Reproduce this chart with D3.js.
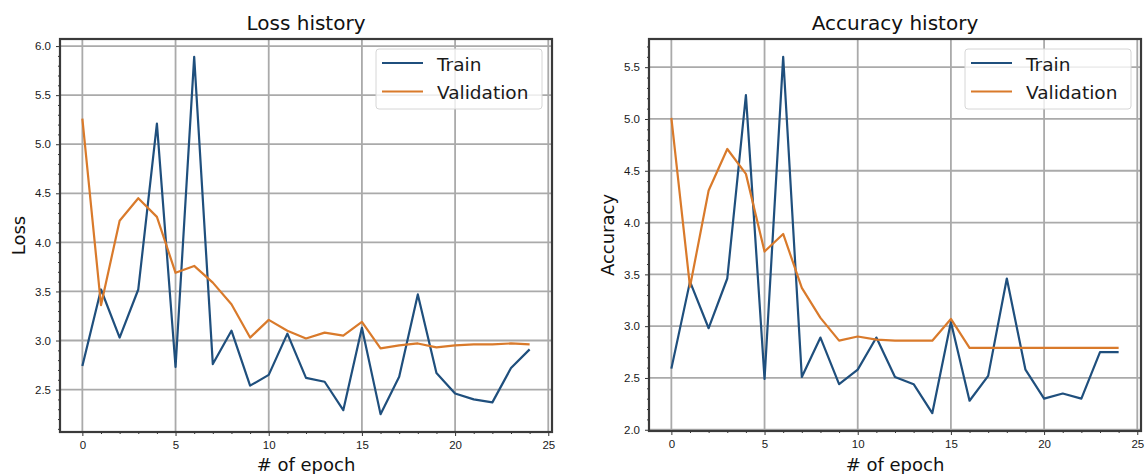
<!DOCTYPE html>
<html>
<head>
<meta charset="utf-8">
<script src="https://cdn.jsdelivr.net/npm/d3@7"></script>
<style>
  body { margin: 0; background: #fff; }
  svg { font-family: "DejaVu Sans", sans-serif; }
</style>
</head>
<body>
<div id="chart"></div>
<script>
// training history, one value per epoch
const epochs = d3.range(25);
const lossTrain = [2.74, 3.52, 3.03, 3.52, 5.21, 2.73, 5.89, 2.76, 3.10, 2.54, 2.65, 3.07, 2.62, 2.58, 2.29,
                   3.13, 2.25, 2.63, 3.47, 2.67, 2.46, 2.40, 2.37, 2.72, 2.91];
const lossVal   = [5.26, 3.36, 4.22, 4.45, 4.26, 3.69, 3.76, 3.59, 3.37, 3.03, 3.21, 3.10, 3.02, 3.08, 3.05,
                   3.19, 2.92, 2.95, 2.97, 2.93, 2.95, 2.96, 2.96, 2.97, 2.96];
const accTrain  = [2.59, 3.43, 2.98, 3.46, 5.23, 2.49, 5.60, 2.51, 2.89, 2.44, 2.58, 2.89, 2.51, 2.44, 2.16,
                   3.04, 2.28, 2.52, 3.46, 2.58, 2.30, 2.35, 2.30, 2.75, 2.75];
const accVal    = [5.01, 3.38, 4.31, 4.71, 4.47, 3.72, 3.89, 3.37, 3.08, 2.86, 2.90, 2.87, 2.86, 2.86, 2.86,
                   3.07, 2.79, 2.79, 2.79, 2.79, 2.79, 2.79, 2.79, 2.79, 2.79];
const seriesNames = ["Train", "Validation"];
const xTicks = [0, 5, 10, 15, 20, 25];
const lossTicks = [2.5, 3.0, 3.5, 4.0, 4.5, 5.0, 5.5, 6.0];
const accTicks = [2.0, 2.5, 3.0, 3.5, 4.0, 4.5, 5.0, 5.5];

const W = 1145, H = 474;
const colors = ["#1f4f7d", "#d97a2b"];

const svg = d3.select("#chart").append("svg")
    .attr("width", W).attr("height", H);

function drawPanel(cfg) {
    const {left, right, top, bottom, title, ylabel, train, val, yTicks} = cfg;
    const all = train.concat(val);
    const lo = d3.min(all), hi = d3.max(all), pad = (hi - lo) * 0.05;

    const x = d3.scaleLinear().domain([-1.2, 25.2]).range([left, right]);
    const y = d3.scaleLinear().domain([lo - pad, hi + pad]).range([bottom, top]);

    const g = svg.append("g");

    // grid
    g.append("g").selectAll("line").data(xTicks).join("line")
        .attr("x1", d => x(d)).attr("x2", d => x(d))
        .attr("y1", top).attr("y2", bottom)
        .attr("stroke", "#aaaaaa").attr("stroke-width", 1.8);
    g.append("g").selectAll("line").data(yTicks).join("line")
        .attr("x1", left).attr("x2", right)
        .attr("y1", d => y(d)).attr("y2", d => y(d))
        .attr("stroke", "#aaaaaa").attr("stroke-width", 1.8);

    // axes with minor ticks
    const xAxis = g.append("g").attr("transform", `translate(0,${bottom})`)
        .call(d3.axisBottom(x).tickValues(xTicks).tickFormat(d3.format("d")).tickSize(4).tickPadding(5));
    g.append("g").attr("transform", `translate(0,${bottom})`)
        .call(d3.axisBottom(x).tickValues(d3.range(0, 25).filter(d => d % 5)).tickFormat("").tickSize(2))
        .call(a => a.select(".domain").remove());
    const yAxis = g.append("g").attr("transform", `translate(${left},0)`)
        .call(d3.axisLeft(y).tickValues(yTicks).tickFormat(d3.format(".1f")).tickSize(4).tickPadding(5));
    const minor = d3.range(Math.ceil((lo - pad) * 10), Math.floor((hi + pad) * 10) + 1)
        .map(d => d / 10).filter(d => Math.round(d * 10) % 5);
    g.append("g").attr("transform", `translate(${left},0)`)
        .call(d3.axisLeft(y).tickValues(minor).tickFormat("").tickSize(2))
        .call(a => a.select(".domain").remove());

    [xAxis, yAxis].forEach(a => {
        a.selectAll("text").attr("font-size", 11.5).attr("fill", "#1a1a1a");
        a.select(".domain").remove();
    });
    g.selectAll(".tick line").attr("stroke", "#333");

    // frame
    g.append("rect")
        .attr("x", left).attr("y", top)
        .attr("width", right - left).attr("height", bottom - top)
        .attr("fill", "none").attr("stroke", "#3a3a3a").attr("stroke-width", 2.2);

    const line = d3.line().x((d, i) => x(epochs[i])).y(d => y(d));
    [train, val].forEach((s, k) => {
        g.append("path").datum(s)
            .attr("d", line)
            .attr("fill", "none")
            .attr("stroke", colors[k])
            .attr("stroke-width", 2.2)
            .attr("stroke-linejoin", "round");
    });

    // legend
    const lg = g.append("g").attr("transform", `translate(${right - 176},${top + 10})`);
    lg.append("rect")
        .attr("width", 166).attr("height", 60).attr("rx", 3)
        .attr("fill", "#fff").attr("fill-opacity", 0.8)
        .attr("stroke", "#d6d6d6");
    seriesNames.forEach((n, k) => {
        const yy = 14 + k * 28.5;
        lg.append("line")
            .attr("x1", 6).attr("x2", 47).attr("y1", yy).attr("y2", yy)
            .attr("stroke", colors[k]).attr("stroke-width", 2);
        lg.append("text")
            .attr("x", 61).attr("y", yy + 1).attr("dy", "0.36em")
            .attr("font-size", 18.5).attr("fill", "#1a1a1a")
            .text(n);
    });

    // titles and labels
    g.append("text")
        .attr("x", (left + right) / 2).attr("y", 30)
        .attr("text-anchor", "middle").attr("font-size", 20).attr("fill", "#111")
        .text(title);
    g.append("text")
        .attr("x", (left + right) / 2).attr("y", 471)
        .attr("text-anchor", "middle").attr("font-size", 18).attr("fill", "#111")
        .text("# of epoch");
    g.append("text")
        .attr("transform", `translate(${left - 35},${(top + bottom) / 2}) rotate(-90)`)
        .attr("text-anchor", "middle").attr("font-size", 18).attr("fill", "#111")
        .text(ylabel);
}

drawPanel({left: 60, right: 552, top: 39, bottom: 432, title: "Loss history", ylabel: "Loss",
           train: lossTrain, val: lossVal, yTicks: lossTicks});
drawPanel({left: 649, right: 1141, top: 39, bottom: 431, title: "Accuracy history", ylabel: "Accuracy",
           train: accTrain, val: accVal, yTicks: accTicks});
</script>
</body>
</html>
